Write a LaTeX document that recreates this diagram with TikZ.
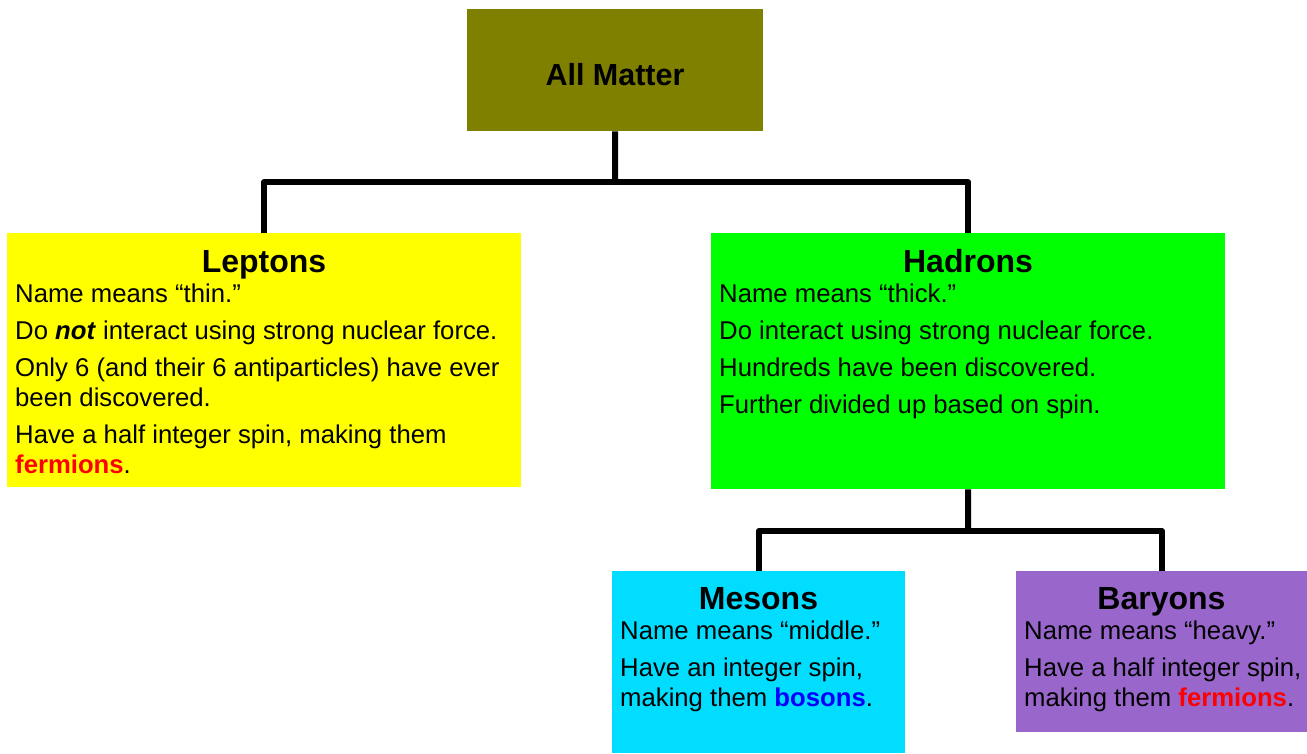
\documentclass[tikz,border=0pt]{standalone}
\usepackage{fontspec}
\setmainfont{Liberation Sans}
\definecolor{olivebox}{HTML}{808000}
\definecolor{lepyellow}{HTML}{FFFF00}
\definecolor{hadgreen}{HTML}{00FF00}
\definecolor{mescyan}{HTML}{00DDFF}
\definecolor{barpurple}{HTML}{9966CC}
\definecolor{fermred}{HTML}{FF0000}
\definecolor{bosblue}{HTML}{0000FF}
\begin{document}
\begin{tikzpicture}[x=1pt,y=-1pt,
  box/.style={draw=none, inner sep=0pt, anchor=north west},
  conn/.style={line width=6pt, line join=round, line cap=butt},
  ttl/.style={font=\fontsize{32}{38}\selectfont\bfseries, anchor=base, inner sep=0pt},
  body/.style={font=\fontsize{25.7}{30}\selectfont, align=left, anchor=north west, inner sep=0pt}]
\useasboundingbox (0,0) rectangle (1307,753);
% boxes
\node[box, fill=olivebox, minimum width=296pt, minimum height=122pt] (all) at (467,9) {};
\node[box, fill=lepyellow, minimum width=514pt, minimum height=254pt] (lep) at (7,233) {};
\node[box, fill=hadgreen, minimum width=514pt, minimum height=256pt] (had) at (711,233) {};
\node[box, fill=mescyan, minimum width=293pt, minimum height=182pt] (mes) at (612,571) {};
\node[box, fill=barpurple, minimum width=291pt, minimum height=161pt] (bar) at (1016,571) {};
% connectors
\coordinate (j1) at (615,182);
\coordinate (j2) at (968,531);
\draw[conn] (all.south) -- (j1);
\draw[conn] (lep.north) |- (j1) -| (had.north);
\draw[conn] (had.south) -- (j2);
\draw[conn] (mes.north) |- (j2) -| (bar.north);
% titles
\node[ttl, font=\fontsize{30.5}{36}\selectfont\bfseries] (tall) at (615,85) {All Matter};
\node[ttl] (tlep) at (264,272) {Leptons};
\node[ttl] (thad) at (968,272) {Hadrons};
\node[ttl] (tmes) at (758.5,609) {Mesons};
\node[ttl] (tbar) at (1161.5,609) {Baryons};
% bodies
\node[body] (blep) at (15,284) {Name means “thin.”\\[7pt]Do \textbf{\textit{not}} interact using strong nuclear force.\\[7pt]Only 6 (and their 6 antiparticles) have ever\\been discovered.\\[7pt]Have a half integer spin, making them\\\textcolor{fermred}{\textbf{fermions}}.};
\node[body] (bhad) at (719,284) {Name means “thick.”\\[7pt]Do interact using strong nuclear force.\\[7pt]Hundreds have been discovered.\\[7pt]Further divided up based on spin.};
\node[body] (bmes) at (620,621) {Name means “middle.”\\[7pt]Have an integer spin,\\making them \textcolor{bosblue}{\textbf{bosons}}.};
\node[body] (bbar) at (1024,621) {Name means “heavy.”\\[7pt]Have a half integer spin,\\making them \textcolor{fermred}{\textbf{fermions}}.};
\end{tikzpicture}
\end{document}
